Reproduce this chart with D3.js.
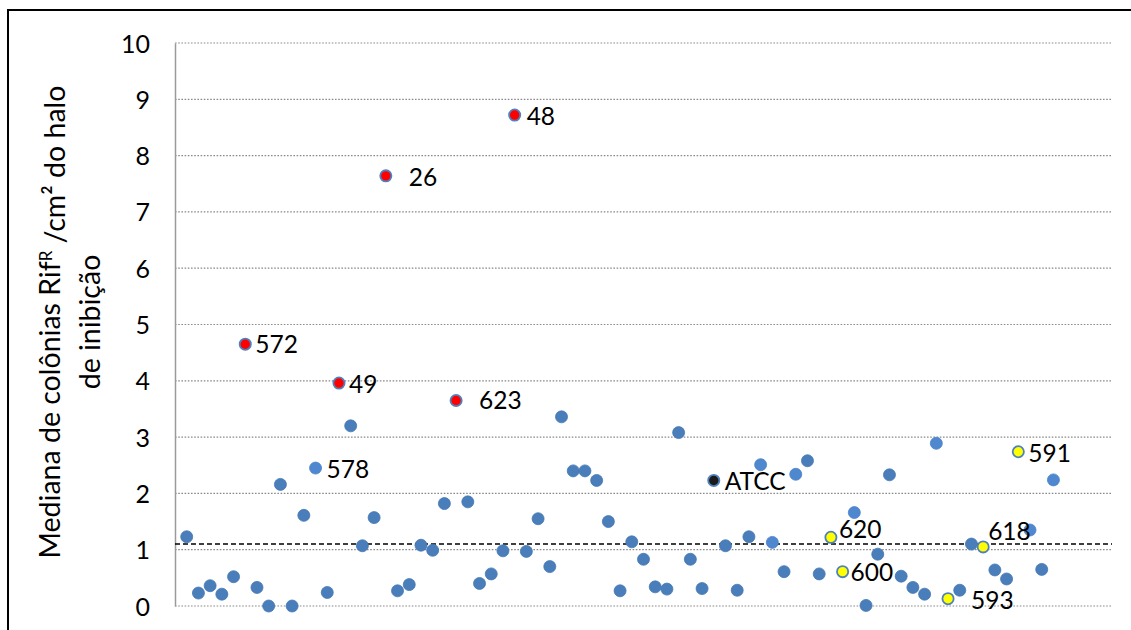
<!DOCTYPE html>
<html>
<head>
<meta charset="utf-8">
<script src="https://cdn.jsdelivr.net/npm/d3@7/dist/d3.min.js"></script>
<style>
  html, body { margin: 0; padding: 0; background: #fff; }
  svg { display: block; }
  text { font-family: Lato, "Open Sans", "Noto Sans", sans-serif; fill: #000; }
</style>
</head>
<body>
<svg id="chart" width="1131" height="630"></svg>
<script>
// ---- data ----
const values = [
  1.23, 0.23, 0.36, 0.21, 0.52, 4.65, 0.33, 0.00, 2.16, 0.00,
  1.61, 2.45, 0.24, 3.96, 3.20, 1.07, 1.57, 7.64, 0.27, 0.38,
  1.08, 0.99, 1.82, 3.65, 1.85, 0.40, 0.57, 0.98, 8.72, 0.97,
  1.55, 0.70, 3.36, 2.40, 2.40, 2.23, 1.50, 0.27, 1.14, 0.83,
  0.34, 0.30, 3.08, 0.83, 0.31, 2.23, 1.07, 0.28, 1.23, 2.51,
  1.13, 0.61, 2.34, 2.58, 0.57, 1.22, 0.61, 1.66, 0.01, 0.92,
  2.33, 0.53, 0.33, 0.21, 2.89, 0.13, 0.28, 1.10, 1.05, 0.64,
  0.48, 2.74, 1.35, 0.65, 2.24
];
const xIndex = values.map((d, i) => i + 1);
const redIdx = [6, 14, 18, 24, 29];          // 1-based positions
const yellowIdx = [56, 57, 66, 69, 72];
const blackIdx = [46];
const lightIdx = [12, 50, 51, 53, 58, 65, 73, 75];
const labelIdx = [6, 14, 18, 24, 29, 12, 46, 56, 57, 66, 69, 72];
const labelText = ["572", "49", "26", "623", "48", "578", "ATCC", "620", "600", "593", "618", "591"];
const yTicks = [0, 1, 2, 3, 4, 5, 6, 7, 8, 9, 10];
const threshold = 1.1;

// ---- layout ----
const plot = { left: 175, right: 1112, top: 43, bottom: 606 };
const labelOffset = {
  "572": [10, 0], "49": [10, 1], "26": [23, 1], "623": [23, 0], "48": [12, 1],
  "578": [11, 1], "ATCC": [11, 1], "620": [8, -8], "600": [8, 1], "593": [23, 1],
  "618": [5, -16], "591": [10, 1]
};

const svg = d3.select("#chart");
const x = d3.scaleLinear().domain([0, 80]).range([plot.left, plot.right]);
const y = d3.scaleLinear().domain([0, 10]).range([plot.bottom, plot.top]);

// outer frame (left + top)
svg.append("path")
  .attr("d", "M8,630 L8,10 L1131,10")
  .attr("fill", "none").attr("stroke", "#000").attr("stroke-width", 2);

// gridlines
svg.append("g").selectAll("line").data(yTicks).join("line")
  .attr("x1", plot.left).attr("x2", plot.right)
  .attr("y1", d => y(d)).attr("y2", d => y(d))
  .attr("stroke", "#8a8a8a").attr("stroke-width", 1.2)
  .attr("stroke-dasharray", "1.6,1.6");

// y axis
const yAxis = d3.axisLeft(y).tickValues(yTicks).tickSize(0).tickPadding(0).tickFormat(d3.format("d"));
const gy = svg.append("g").attr("transform", `translate(${plot.left},0)`).call(yAxis);
gy.select(".domain").attr("stroke", "#9a9a9a").attr("stroke-width", 1.5);
gy.selectAll("text")
  .attr("x", -25)
  .attr("dy", "0.36em")
  .style("font-size", "25px")
  .style("font-family", "Lato, 'Open Sans', sans-serif")
  .attr("fill", "#000");

// axis title
const title = svg.append("text")
  .attr("transform", `translate(50,322) rotate(-90)`)
  .attr("text-anchor", "middle")
  .style("font-size", "28.5px");
title.append("tspan").attr("x", 0).attr("dy", "0.35em").text("Mediana de colônias Rif");
title.append("tspan").attr("dy", "-0.45em").style("font-size", "17px").text("R");
title.append("tspan").attr("dy", "0.45em").text(" /cm² do halo");
svg.append("text")
  .attr("transform", `translate(90,322) rotate(-90)`)
  .attr("text-anchor", "middle")
  .attr("dy", "0.35em")
  .style("font-size", "28.5px")
  .text("de inibição");

// threshold dashed line
svg.append("line")
  .attr("x1", plot.left).attr("x2", plot.right)
  .attr("y1", y(threshold)).attr("y2", y(threshold))
  .attr("stroke", "#000").attr("stroke-width", 1.6)
  .attr("stroke-dasharray", "5,3");

// points
const pts = values.map((v, i) => ({ i: xIndex[i], v }));
function kind(d) {
  if (redIdx.includes(d.i)) return "red";
  if (yellowIdx.includes(d.i)) return "yellow";
  if (blackIdx.includes(d.i)) return "black";
  if (lightIdx.includes(d.i)) return "light";
  return "blue";
}
const fillMap = { blue: "#4a7ebb", light: "#4f88cf", red: "#ff0000", yellow: "#ffff00", black: "#1a1a1a" };
const strokeMap = { blue: "#4477b3", light: "#4b83c8", red: "#4f81bd", yellow: "#4f81bd", black: "#4f81bd" };
const order = ["blue", "light", "red", "yellow", "black"];
const sorted = pts.slice().sort((a, b) => order.indexOf(kind(a)) - order.indexOf(kind(b)));
svg.append("g").selectAll("circle").data(sorted).join("circle")
  .attr("cx", d => x(d.i))
  .attr("cy", d => y(d.v))
  .attr("r", d => kind(d) === "blue" || kind(d) === "light" ? 6 : 5.6)
  .attr("fill", d => fillMap[kind(d)])
  .attr("stroke", d => strokeMap[kind(d)])
  .attr("stroke-width", d => kind(d) === "blue" || kind(d) === "light" ? 0.8 : 1.8);

// point labels
svg.append("g").selectAll("text").data(labelIdx.map((idx, k) => ({ idx, t: labelText[k] }))).join("text")
  .attr("x", d => x(d.idx) + labelOffset[d.t][0])
  .attr("y", d => y(values[d.idx - 1]) + labelOffset[d.t][1])
  .attr("dy", "0.36em")
  .style("font-size", "24.5px")
  .text(d => d.t);
</script>
</body>
</html>
